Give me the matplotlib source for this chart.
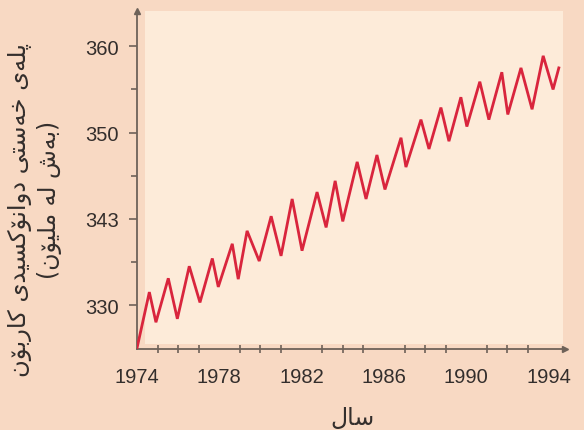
import numpy as np
import matplotlib
matplotlib.use('Agg')
import matplotlib.pyplot as plt
from matplotlib.patches import Rectangle

# ─── Data ────────────────────────────────────────────────────────────────────
years = [1974.0, 1974.6, 1974.92, 1975.52, 1975.96, 1976.54, 1977.06, 1977.66,
         1977.95, 1978.63, 1978.92, 1979.35, 1979.94, 1980.52, 1981.0, 1981.54,
         1982.02, 1982.75, 1983.19, 1983.63, 1984.0, 1984.7, 1985.13, 1985.66,
         1986.05, 1986.83, 1987.07, 1987.8, 1988.19, 1988.77, 1989.16, 1989.74,
         1990.03, 1990.66, 1991.1, 1991.73, 1992.02, 1992.66, 1993.2, 1993.74,
         1994.22, 1994.5]
co2_ppm = [325.0, 331.5, 328.0, 333.1, 328.4, 334.5, 330.3, 335.4,
           332.1, 337.1, 333.0, 338.6, 335.1, 340.3, 335.7, 342.3,
           336.3, 343.1, 339.0, 344.4, 339.7, 346.6, 342.3, 347.4,
           343.4, 349.4, 346.0, 351.5, 348.1, 352.9, 349.0, 354.1,
           350.7, 355.9, 351.5, 357.0, 352.1, 357.5, 352.7, 358.9,
           355.0, 357.5]

x_ticks = [1974, 1978, 1982, 1986, 1990, 1994]
x_minor = list(range(1975, 1995))
y_ticks = [330, 340, 350, 360]
y_ticklabels = ['330', '343', '350', '360']   # as printed in the source
y_minor = [335, 345, 355]

ylabel_1 = 'پلەی خەستی دوانۆکسیدی کاربۆن'
ylabel_2 = '(بەش لە ملیۆن)'
xlabel = 'ساڵ'

# ─── Minimal Arabic-script shaping (matplotlib has no bidi/shaping) ──────────
# letter: (isolated, final, initial, medial); 2-tuple = right-joining only
FORMS = {
    'ا': ('\uFE8D', '\uFE8E'),
    'ب': ('\uFE8F', '\uFE90', '\uFE91', '\uFE92'),
    'پ': ('\uFB56', '\uFB57', '\uFB58', '\uFB59'),
    'ت': ('\uFE95', '\uFE96', '\uFE97', '\uFE98'),
    'خ': ('\uFEA5', '\uFEA6', '\uFEA7', '\uFEA8'),
    'د': ('\uFEA9', '\uFEAA'),
    'ر': ('\uFEAD', '\uFEAE'),
    'س': ('\uFEB1', '\uFEB2', '\uFEB3', '\uFEB4'),
    'ش': ('\uFEB5', '\uFEB6', '\uFEB7', '\uFEB8'),
    'ک': ('\uFB8E', '\uFB8F', '\uFB90', '\uFB91'),
    'ل': ('\uFEDD', '\uFEDE', '\uFEDF', '\uFEE0'),
    'ڵ': ('\uFEDD', '\uFEDE', '\uFEDF', '\uFEE0'),
    'م': ('\uFEE1', '\uFEE2', '\uFEE3', '\uFEE4'),
    'ن': ('\uFEE5', '\uFEE6', '\uFEE7', '\uFEE8'),
    'و': ('\uFEED', '\uFEEE'),
    'ۆ': ('\uFBD9', '\uFBDA'),
    'ی': ('\uFBFC', '\uFBFD', '\uFBFE', '\uFBFF'),
    'ە': ('\uFEE9', '\uFEEA'),
}


def shape(text):
    out = []
    for i, ch in enumerate(text):
        if ch not in FORMS:
            out.append(ch)
            continue
        f = FORMS[ch]
        prev = text[i - 1] if i > 0 else ''
        nxt = text[i + 1] if i + 1 < len(text) else ''
        join_prev = prev in FORMS and len(FORMS[prev]) == 4
        join_next = len(f) == 4 and nxt in FORMS
        if join_prev and join_next:
            out.append(f[3])
        elif join_prev:
            out.append(f[1])
        elif join_next:
            out.append(f[2])
        else:
            out.append(f[0])
    vis = ''.join(reversed(out))
    return vis.translate(str.maketrans('()', ')('))


# ─── Figure ──────────────────────────────────────────────────────────────────
BG = '#f8d9c3'
PANEL = '#fdebd9'
AXIS = '#6e6259'
TXT = '#332e2c'
RED = '#d9253d'

fig = plt.figure(figsize=(5.84, 4.31), dpi=100)
fig.patch.set_facecolor(BG)
fig.patches.append(Rectangle((145 / 584, 86 / 431), 418 / 584, 333 / 431,
                             transform=fig.transFigure, facecolor=PANEL,
                             edgecolor='none', zorder=0))

ax = fig.add_axes([137 / 584, 81 / 431, 428 / 584, 338 / 431])
ax.set_zorder(2)
ax.set_facecolor('none')
ax.plot(years, co2_ppm, color=RED, lw=2.0, solid_joinstyle='miter', zorder=3)

ax.set_xlim(1974, 1994.8)
ax.set_ylim(324.9, 364.1)

for s in ['top', 'right']:
    ax.spines[s].set_visible(False)
for s in ['left', 'bottom']:
    ax.spines[s].set_color(AXIS)
    ax.spines[s].set_linewidth(1.3)

# arrow heads
ax.plot(1, 0, '>', color=AXIS, ms=5, transform=ax.transAxes, clip_on=False)
ax.plot(0, 1, '^', color=AXIS, ms=5, transform=ax.transAxes, clip_on=False)

ax.set_xticks(x_ticks)
ax.set_xticklabels([str(y) for y in x_ticks])
ax.set_xticks(x_minor, minor=True)
ax.set_yticks(y_ticks)
ax.set_yticklabels(y_ticklabels)
ax.set_yticks(y_minor, minor=True)

ax.tick_params(axis='x', which='major', length=0, pad=13,
               labelsize=14.5, labelcolor=TXT)
ax.tick_params(axis='x', which='minor', direction='inout', length=6,
               width=1.2, color=AXIS)
ax.tick_params(axis='y', which='major', direction='out', length=6, width=1.2,
               color=AXIS, pad=7, labelsize=14.5, labelcolor=TXT)
ax.tick_params(axis='y', which='minor', direction='out', length=4, width=1.2,
               color=AXIS)
for lab in ax.get_xticklabels() + ax.get_yticklabels():
    lab.set_family(['Liberation Sans', 'DejaVu Sans'])

fig.text(352 / 584, 1 - 418 / 431, shape(xlabel), ha='center', va='center',
         fontsize=17, color=TXT, family='DejaVu Sans')
fig.text(20 / 584, 1 - 210 / 431, shape(ylabel_1), ha='center', va='center',
         rotation=90, fontsize=17.5, color=TXT, family='DejaVu Sans')
fig.text(50 / 584, 1 - 200 / 431, shape(ylabel_2), ha='center', va='center',
         rotation=90, fontsize=17, color=TXT, family='DejaVu Sans')

fig.savefig('out.png', dpi=100, facecolor=BG)
